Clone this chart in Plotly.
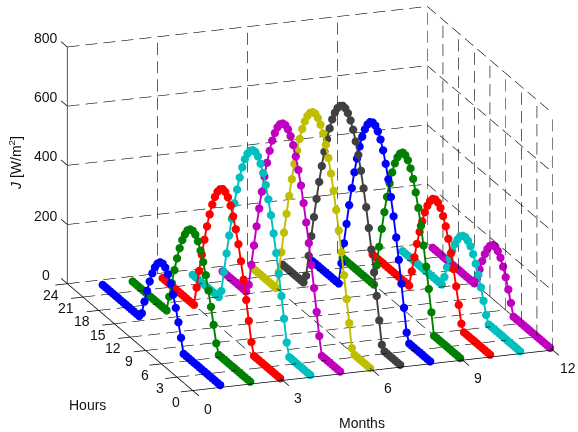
import plotly.graph_objects as go

hours = [0.5 * (i + 1) for i in range(46)]
months = list(range(1, 13))
month_ticks = [0, 3, 6, 9, 12]
hour_ticks = [0, 3, 6, 9, 12, 15, 18, 21, 24]
j_ticks = [0, 200, 400, 600, 800]

m01 = [0]*15 + [47, 92, 133, 170, 200, 224, 239, 245, 242, 230, 210, 182, 147, 108, 64, 17]
m02 = [0]*13 + [32, 87, 140, 188, 232, 269, 300, 324, 339, 345, 342, 331, 310, 283, 248, 206, 159, 108, 54]
m03 = [0]*11 + [40, 104, 167, 228, 283, 333, 376, 412, 441, 461, 472, 474, 466, 450, 425, 392, 351, 303, 250, 192, 130, 66]
m04 = [0]*9 + [42, 115, 184, 251, 314, 373, 427, 473, 514, 547, 571, 588, 596, 594, 585, 567, 541, 506, 464, 416, 362, 302, 238, 170, 100, 28]
m05 = [0]*8 + [60, 134, 207, 277, 344, 406, 464, 516, 561, 599, 630, 653, 668, 675, 673, 663, 645, 618, 585, 543, 495, 441, 382, 318, 250, 178, 105, 30]
m06 = [0]*7 + [15, 92, 166, 239, 309, 375, 437, 494, 545, 590, 627, 658, 680, 695, 702, 700, 690, 672, 646, 613, 572, 525, 472, 413, 349, 281, 210, 136, 61]
m07 = [0]*7 + [15, 90, 165, 237, 307, 372, 435, 491, 543, 589, 627, 659, 683, 700, 709, 710, 702, 687, 664, 634, 596, 552, 502, 446, 385, 320, 251, 179, 105, 30]
m08 = [0]*9 + [30, 106, 180, 253, 321, 385, 443, 495, 540, 578, 607, 627, 639, 642, 636, 620, 596, 564, 523, 475, 421, 360, 295, 224, 151, 76]
m09 = [0]*11 + [72, 143, 211, 275, 334, 387, 432, 470, 498, 518, 528, 529, 518, 498, 470, 432, 387, 334, 275, 211, 143, 72]
m10 = [0]*11 + [22, 78, 133, 184, 230, 271, 306, 333, 353, 364, 367, 361, 346, 323, 293, 255, 212, 164, 111, 56]
m11 = [0]*13 + [25, 65, 103, 138, 168, 193, 212, 223, 228, 225, 215, 197, 174, 144, 110, 73, 33]
m12 = [0]*15 + [39, 77, 111, 139, 162, 177, 184, 182, 172, 154, 129, 98, 62, 24]
series = [m01, m02, m03, m04, m05, m06, m07, m08, m09, m10, m11, m12]
colors = ["#0000ff", "#008000", "#ff0000", "#00bfbf", "#bf00bf", "#bfbf00", "#404040",
          "#0000ff", "#008000", "#ff0000", "#00bfbf", "#bf00bf"]

X0, X1, Y0, Y1, Z0, Z1 = 0, 12, 0, 24, 0, 800
fig = go.Figure()


def seg(xs, ys, zs, color="black", width=1.5):
    fig.add_trace(go.Scatter3d(x=xs, y=ys, z=zs, mode="lines",
                               line=dict(color=color, width=width),
                               hoverinfo="skip", showlegend=False, connectgaps=False))


def dashed(xs, ys, zs, periods):
    """Grid line broken into on/off stretches, so the dash length can follow the reference."""
    px, py, pz = [], [], []
    for k in range(periods):
        for f in (k / periods, (k + 0.67) / periods):
            px.append(xs[0] + (xs[1] - xs[0]) * f)
            py.append(ys[0] + (ys[1] - ys[0]) * f)
            pz.append(zs[0] + (zs[1] - zs[0]) * f)
        px.append(None)
        py.append(None)
        pz.append(None)
    seg(px, py, pz, width=1.2)


P_X, P_Y, P_Z = 20, 10, 13
# grid: back wall, right wall, floor
for mx in month_ticks[1:]:
    dashed([mx, mx], [Y1, Y1], [Z0, Z1], P_Z)
for h in hour_ticks[:-1]:
    dashed([X1, X1], [h, h], [Z0, Z1], P_Z)
for z in j_ticks[1:]:
    dashed([X0, X1], [Y1, Y1], [z, z], P_X)
    dashed([X1, X1], [Y1, Y0], [z, z], P_Y)
for mx in month_ticks[1:]:
    dashed([mx, mx], [Y0, Y1], [Z0, Z0], P_Y)
dashed([X1, X1], [Y1, Y0], [Z0, Z0], P_Y)
for h in hour_ticks[1:]:
    dashed([X0, X1], [h, h], [Z0, Z0], P_X)

# axis lines and tick marks
seg([X0, X1], [Y0, Y0], [Z0, Z0])
seg([X0, X0], [Y0, Y1], [Z0, Z0])
seg([X0, X0], [Y1, Y1], [Z0, Z1], color="#555555", width=2)
for mx in month_ticks:
    seg([mx, mx], [Y0, Y0 - 1.2], [Z0, Z0])
for h in hour_ticks:
    seg([X0, X0 - 0.4], [h, h], [Z0, Z0])
for z in j_ticks:
    seg([X0, X0], [Y1, Y1 + 1.2], [z, z])

for mth, vals, col in zip(months, series, colors):
    v = vals + [0] * (len(hours) - len(vals))
    fig.add_trace(go.Scatter3d(x=[mth] * len(hours), y=hours, z=v, mode="lines+markers",
                               line=dict(color=col, width=3.8),
                               marker=dict(color=col, size=4.8, line=dict(width=0)),
                               hoverinfo="skip", showlegend=False))

tick_font = dict(family="Liberation Sans, Arial, sans-serif", size=14, color="#111111")
ann = []
for mx in month_ticks:
    ann.append(dict(x=mx, y=Y0, z=Z0, text=str(mx), showarrow=False, font=tick_font, xshift=15, yshift=-18))
for h in hour_ticks:
    ann.append(dict(x=X0, y=h, z=Z0, text=str(h), showarrow=False, font=tick_font, xshift=-17, yshift=-11))
for z in j_ticks:
    ann.append(dict(x=X0, y=Y1, z=z, text=str(z), showarrow=False, font=tick_font, xshift=-22, yshift=9))

hidden = dict(visible=False, showgrid=False, zeroline=False, showspikes=False)
fig.update_layout(
    width=578, height=432, margin=dict(l=0, r=0, t=0, b=0),
    paper_bgcolor="white", showlegend=False,
    font=dict(family="Liberation Sans, Arial, sans-serif", size=14, color="#111111"),
    scene=dict(
        domain=dict(x=[0.073, 1], y=[0.081, 1]),
        xaxis=dict(range=[-0.5, 12.5], **hidden),
        yaxis=dict(range=[-1.5, 25.5], **hidden),
        zaxis=dict(range=[-20, 820], **hidden),
        aspectmode="manual",
        aspectratio=dict(x=2.09, y=2.08, z=1.317),
        bgcolor="white",
        camera=dict(projection=dict(type="orthographic"),
                    up=dict(x=0, y=0, z=1),
                    center=dict(x=0, y=0, z=0),
                    eye=dict(x=-0.346, y=-0.952, z=0.33)),
        annotations=ann,
    ),
    annotations=[
        dict(x=87 / 578, y=1 - 405 / 432, xref="paper", yref="paper", text="Hours", showarrow=False,
             xanchor="center", yanchor="middle"),
        dict(x=362 / 578, y=1 - 423 / 432, xref="paper", yref="paper", text="Months", showarrow=False,
             xanchor="center", yanchor="middle"),
        dict(x=15 / 578, y=1 - 163 / 432, xref="paper", yref="paper", text="<i>J</i> [W/m<sup>2</sup>]",
             showarrow=False, textangle=-90, xanchor="center", yanchor="middle"),
    ],
)
fig.write_html("out.html", config={"displayModeBar": False},
               post_script="document.body.style.margin='0';")
